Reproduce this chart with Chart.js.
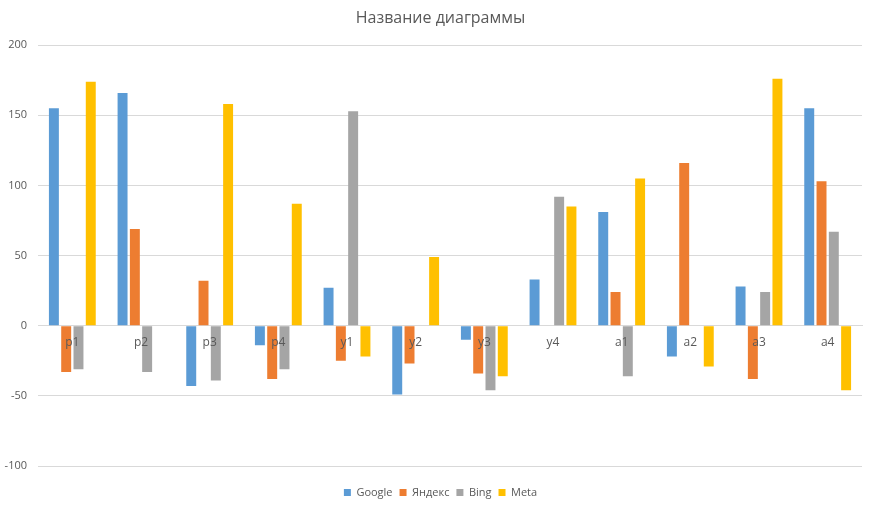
<!DOCTYPE html>
<html>
<head>
<meta charset="utf-8">
<script src="https://cdn.jsdelivr.net/npm/chart.js@4"></script>
<style>
  html, body { margin: 0; padding: 0; background: #fff; }
  #wrap { width: 881px; height: 508px; }
</style>
</head>
<body>
<div id="wrap"><canvas id="chart" width="881" height="508"></canvas></div>
<script>
// категории и ряды
const categories = ['p1', 'p2', 'p3', 'p4', 'y1', 'y2', 'y3', 'y4', 'a1', 'a2', 'a3', 'a4'];
const googleValues = [155, 166, -43, -14, 27, -49, -10, 33, 81, -22, 28, 155];
const yandexValues = [-33, 69, 32, -38, -25, -27, -34, 0, 24, 116, -38, 103];
const bingValues = [-31, -33, -39, -31, 153, 0, -46, 92, -36, 0, 24, 67];
const metaValues = [174, 0, 158, 87, -22, 49, -36, 85, 105, -29, 176, -46];
const yTicks = [-100, -50, 0, 50, 100, 150, 200];

const textColor = '#595959';
const gridColor = '#d9d9d9';
const fontFamily = '"Open Sans", sans-serif';

const ctx = document.getElementById('chart').getContext('2d');

new Chart(ctx, {
    type: 'bar',
    data: {
        labels: categories,
        datasets: [
            { label: 'Google', data: googleValues, backgroundColor: '#5b9bd5' },
            { label: 'Яндекс', data: yandexValues, backgroundColor: '#ed7d31' },
            { label: 'Bing', data: bingValues, backgroundColor: '#a5a5a5' },
            { label: 'Meta', data: metaValues, backgroundColor: '#ffc000' },
        ].map(ds => ({ ...ds, xAxisID: 'x', yAxisID: 'y' })),
    },
    options: {
        responsive: false,
        animation: false,
        datasets: {
            bar: { categoryPercentage: 0.716, barPercentage: 0.81 }
        },
        layout: { padding: { left: 0, right: 0, top: 0, bottom: 0 } },
        plugins: {
            title: {
                display: true,
                text: 'Название диаграммы',
                color: textColor,
                font: { family: fontFamily, size: 16, weight: 'normal' },
                padding: { top: 9, bottom: 17 },
            },
            legend: {
                position: 'bottom',
                labels: {
                    color: textColor,
                    boxWidth: 7,
                    boxHeight: 7,
                    padding: 7,
                    font: { family: fontFamily, size: 11 },
                }
            },
            tooltip: { enabled: false },
        },
        scales: {
            x: {
                type: 'category',
                position: { y: 0 },
                grid: { display: false, drawTicks: false },
                border: { display: true, color: gridColor, width: 1 },
                ticks: {
                    z: 1, // подписи поверх столбиков
                    color: textColor,
                    padding: 10,
                    font: { family: fontFamily, size: 12 },
                    maxRotation: 0,
                },
            },
            y: {
                min: -100,
                max: 200,
                afterBuildTicks: (scale) => { scale.ticks = yTicks.map(v => ({ value: v })); },
                afterFit: (scale) => { scale.width = 38; },
                grid: { color: gridColor, drawTicks: false },
                border: { display: false },
                ticks: {
                    color: textColor,
                    padding: 11,
                    font: { family: fontFamily, size: 11 },
                },
            },
            // пустые оси, только для отступов снизу и справа
            spacer: {
                type: 'category',
                position: 'bottom',
                grid: { display: false },
                border: { display: false },
                ticks: { display: false },
                afterFit: (scale) => { scale.height = 14; },
            },
            spacerRight: {
                type: 'linear',
                position: 'right',
                grid: { display: false },
                border: { display: false },
                ticks: { display: false },
                afterFit: (scale) => { scale.width = 19; },
            },
        }
    }
});
</script>
</body>
</html>
